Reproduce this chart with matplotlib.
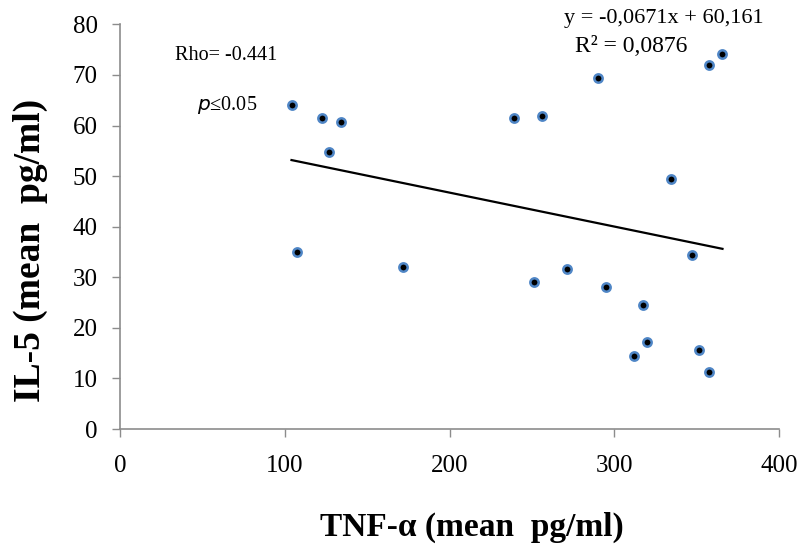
import matplotlib
matplotlib.use("Agg")
import matplotlib.pyplot as plt
import numpy as np

# Data
tnf_alpha = [104.1, 122.5, 134.0, 126.7, 107.2, 171.9, 239.3, 256.0, 290.4, 357.8,
             365.7, 334.3, 347.1, 271.6, 251.4, 294.7, 317.3, 320.1, 311.8, 351.7, 357.8]
il5 = [64.1, 61.5, 60.7, 54.8, 35.0, 32.1, 61.5, 61.8, 69.4, 72.0,
       74.1, 49.4, 34.4, 31.6, 29.0, 28.1, 24.5, 17.2, 14.4, 15.6, 11.2]
slope = -0.0671
intercept = 60.161
x_ticks = [0, 100, 200, 300, 400]
y_ticks = [0, 10, 20, 30, 40, 50, 60, 70, 80]

plt.rcParams['font.family'] = ['Liberation Serif', 'DejaVu Serif']

fig = plt.figure(figsize=(8.02, 5.54), dpi=100)
ax = fig.add_axes([120/802, 1-429/554, (779-120)/802, (429-24.4)/554])

ax.plot(tnf_alpha, il5, linestyle='none', marker='o', markersize=6,
        markerfacecolor='black', markeredgecolor='#4f86c6', markeredgewidth=1.8, zorder=3)

xs = np.array([min(tnf_alpha), max(tnf_alpha)])
ax.plot(xs, slope*xs + intercept, color='black', linewidth=1.6, zorder=2)

ax.set_xlim(0, 400)
ax.set_ylim(0, 80)
ax.set_xticks(x_ticks)
ax.set_yticks(y_ticks)
ax.tick_params(axis='both', colors='#000000', labelsize=18, length=6, width=1)
ax.tick_params(axis='x', color='#8c8c8c', pad=13)
ax.tick_params(axis='y', color='#8c8c8c', pad=10)
for s in ['top', 'right']:
    ax.spines[s].set_visible(False)
for s in ['left', 'bottom']:
    ax.spines[s].set_color('#8c8c8c')
    ax.spines[s].set_linewidth(1.2)

fig.text(472/802, 1-527/554, 'TNF-α (mean  pg/ml)', fontsize=24, fontweight='bold',
         ha='center', va='center')
fig.text(30/802, 1-250/554, 'IL-5 (mean  pg/ml)', fontsize=27, fontweight='bold',
         ha='center', va='center', rotation=90)

fig.text(664/802, 1-18/554, 'y = -0,0671x + 60,161', fontsize=16, ha='center', va='center')
fig.text(631/802, 1-47/554, 'R² = 0,0876', fontsize=17, ha='center', va='center')
fig.text(226/802, 1-55/554, 'Rho= -0.441', fontsize=14.5, ha='center', va='center')
fig.text(227/802, 1-105/554, r'$p$≤0.05', fontsize=14.5, ha='center', va='center')

fig.savefig('out.png', dpi=100)
